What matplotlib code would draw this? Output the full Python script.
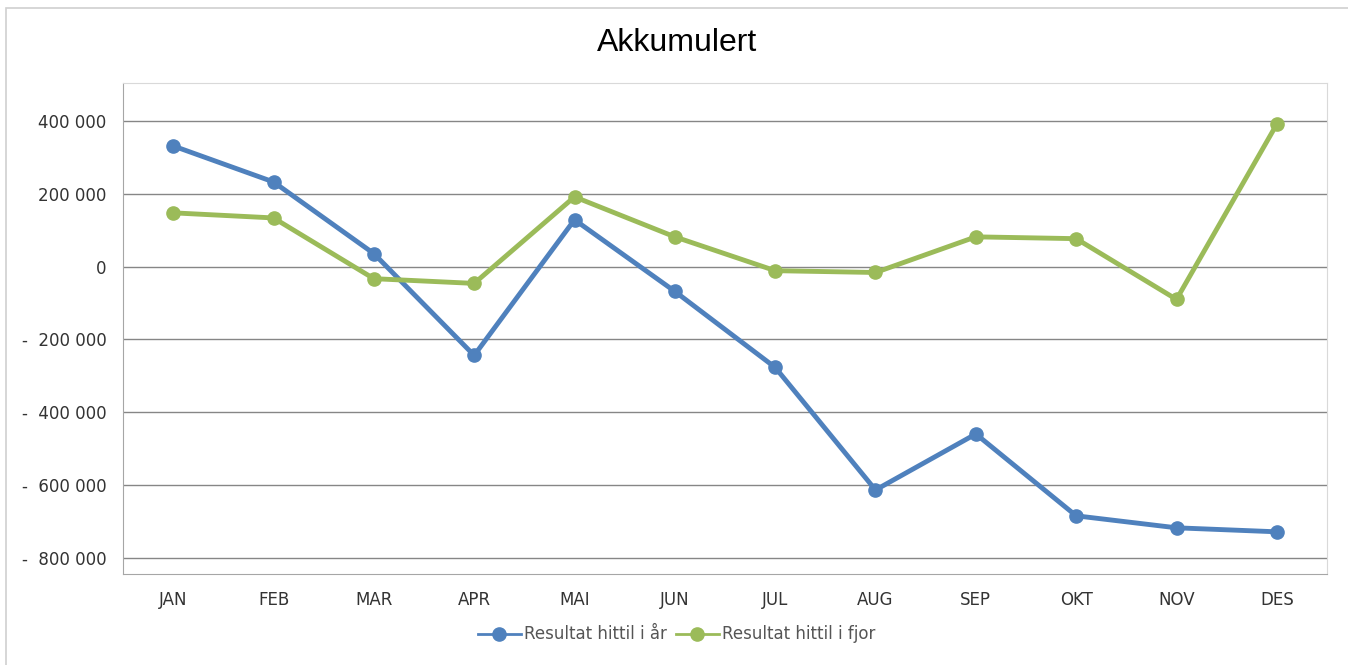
import matplotlib.pyplot as plt
from matplotlib.ticker import FuncFormatter
from matplotlib.lines import Line2D
from matplotlib.patches import Rectangle

maneder = ['JAN', 'FEB', 'MAR', 'APR', 'MAI', 'JUN', 'JUL', 'AUG', 'SEP', 'OKT', 'NOV', 'DES']
hittil_i_aar = [332000, 233000, 36000, -244000, 129000, -68000, -277000, -614000, -460000, -685000, -718000, -729000]
hittil_i_fjor = [148000, 134000, -33000, -46000, 192000, 82000, -11000, -16000, 82000, 77000, -90000, 392000]
y_ticks = [-800000, -600000, -400000, -200000, 0, 200000, 400000]

blaa = '#4F81BD'
gronn = '#9BBB59'

fig = plt.figure(figsize=(13.48, 6.65), dpi=100)
fig.patches.append(Rectangle((6 / 1348, -0.1), 1.2, (1 - 8 / 665) + 0.1, transform=fig.transFigure,
                             fill=False, edgecolor='#d0d0d0', lw=1.2))
ax = fig.add_axes([123 / 1348, 91 / 665, 1204 / 1348, 491 / 665])

x = list(range(len(maneder)))
ax.plot(x, hittil_i_aar, color=blaa, lw=3.5, marker='o', ms=9.5, label='Resultat hittil i år', zorder=3)
ax.plot(x, hittil_i_fjor, color=gronn, lw=3.5, marker='o', ms=9.5, label='Resultat hittil i fjor', zorder=3)

ax.set_xlim(-0.5, 11.5)
ax.set_ylim(-845000, 505000)
ax.set_xticks(x)
ax.set_xticklabels(maneder)
ax.set_yticks(y_ticks)


def fmt(v, pos):
    if v == 0:
        return '0'
    s = f'{abs(int(v)):,}'.replace(',', ' ')
    return ('-  ' + s) if v < 0 else s


ax.yaxis.set_major_formatter(FuncFormatter(fmt))
ax.tick_params(axis='both', length=0, labelsize=12, colors='#333333')
ax.tick_params(axis='y', pad=12)
ax.tick_params(axis='x', pad=12)
ax.grid(axis='y', color='#868686', lw=1)
ax.set_axisbelow(True)
for side in ['top', 'right']:
    ax.spines[side].set_color('#d9d9d9')
for side in ['left', 'bottom']:
    ax.spines[side].set_color('#a6a6a6')

fig.text(0.502, 0.935, 'Akkumulert', ha='center', va='center', fontsize=23, family='Liberation Sans')

handles = [Line2D([], [], color=blaa, lw=2, marker='o', ms=9.5),
           Line2D([], [], color=gronn, lw=2, marker='o', ms=9.5)]
fig.legend(handles, ['Resultat hittil i år', 'Resultat hittil i fjor'], loc='center',
           bbox_to_anchor=(0.502, 0.046), ncol=2, frameon=False, fontsize=12,
           labelcolor='#555555', handlelength=2.6, handletextpad=0.2, columnspacing=0.5)

plt.savefig('out.png', dpi=100)
